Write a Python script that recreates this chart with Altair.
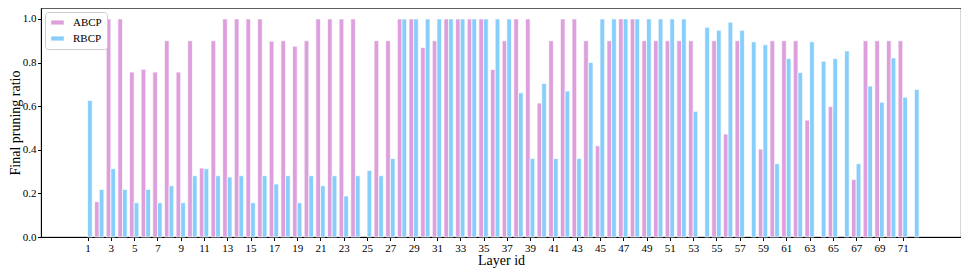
import altair as alt
import pandas as pd

layers = list(range(1, 73))
abcp = [0.0, 0.162, 1.0, 1.0, 0.756, 0.769, 0.756, 0.9, 0.756, 0.9,
        0.316, 0.9, 1.0, 1.0, 1.0, 1.0, 0.898, 0.9, 0.875, 0.9,
        1.0, 1.0, 1.0, 1.0, 0.0, 0.9, 0.9, 1.0, 1.0, 0.869,
        0.9, 1.0, 1.0, 1.0, 1.0, 0.768, 0.9, 1.0, 1.0, 0.614,
        0.9, 1.0, 1.0, 0.9, 0.418, 0.9, 1.0, 1.0, 0.9, 0.9,
        0.9, 0.9, 0.9, 0.0, 0.9, 0.472, 0.9, 0.0, 0.403, 0.9,
        0.9, 0.9, 0.536, 0.0, 0.598, 0.0, 0.264, 0.9, 0.9, 0.9,
        0.9, 0.0]
rbcp = [0.626, 0.218, 0.313, 0.218, 0.157, 0.218, 0.157, 0.235, 0.157, 0.281,
        0.313, 0.281, 0.275, 0.281, 0.157, 0.281, 0.243, 0.281, 0.157, 0.281,
        0.235, 0.281, 0.188, 0.281, 0.305, 0.281, 0.360, 1.0, 1.0, 1.0,
        1.0, 1.0, 1.0, 1.0, 1.0, 1.0, 1.0, 0.661, 0.360, 0.704,
        0.360, 0.669, 0.360, 0.800, 1.0, 1.0, 1.0, 1.0, 1.0, 1.0,
        1.0, 1.0, 0.576, 0.962, 0.948, 0.985, 0.948, 0.895, 0.881, 0.336,
        0.818, 0.754, 0.895, 0.806, 0.818, 0.853, 0.336, 0.692, 0.618, 0.821,
        0.641, 0.676]
methods = ["ABCP", "RBCP"]
colors = ["#DDA0DD", "#87CEFA"]
x_ticks = list(range(1, 72, 2))
y_ticks = [0.0, 0.2, 0.4, 0.6, 0.8, 1.0]

rows = []
for i, l in enumerate(layers):
    rows.append({"layer": l, "method": "ABCP", "value": abcp[i], "off": -0.4})
    rows.append({"layer": l, "method": "RBCP", "value": rbcp[i], "off": 0.0})
df = pd.DataFrame(rows)

font = "Liberation Serif"

bars = alt.Chart(df).transform_filter(
    "datum.value > 0"
).transform_calculate(
    x0="datum.layer + datum.off",
    x1="datum.layer + datum.off + 0.4",
).mark_bar(stroke="white", strokeWidth=0.7).encode(
    x=alt.X("x0:Q", scale=alt.Scale(domain=[-3, 76], nice=False, zero=False),
            axis=alt.Axis(values=x_ticks, title="Layer id", grid=False,
                          labelFont=font, titleFont=font, labelFontSize=11,
                          titleFontSize=14, titleFontWeight="normal",
                          labelColor="black", titleColor="black",
                          tickColor="black", domainColor="black",
                          tickSize=3.5, labelPadding=2, titlePadding=0,
                          labelFlush=False, labelOverlap=False)),
    x2="x1:Q",
    y=alt.Y("value:Q", scale=alt.Scale(domain=[0, 1.05], nice=False),
            axis=alt.Axis(values=y_ticks, format=".1f", title="Final pruning ratio",
                          grid=False, labelFont=font, titleFont=font,
                          labelFontSize=11, titleFontSize=14,
                          titleFontWeight="normal", labelColor="black",
                          titleColor="black", tickColor="black",
                          domainColor="black", tickSize=3.5, labelPadding=1.5,
                          titlePadding=0, labelFlush=False)),
    y2=alt.datum(0),
    color=alt.Color("method:N", scale=alt.Scale(domain=methods, range=colors),
                    legend=alt.Legend(title=None, orient="none", legendX=4, legendY=4,
                                      symbolType="M-1.5,-0.5L1.5,-0.5L1.5,0.5L-1.5,0.5Z",
                                      symbolSize=70, symbolStrokeWidth=0,
                                      labelFont=font, labelFontSize=11,
                                      labelColor="black", rowPadding=4,
                                      padding=5, strokeColor="#cccccc",
                                      fillColor="white", cornerRadius=3,
                                      symbolOffset=2, labelOffset=10)),
)

chart = bars.properties(
    width=920, height=229,
    autosize=alt.AutoSizeParams(type="none"),
    padding={"left": 33, "top": 0, "right": 0, "bottom": 33},
).configure_view(stroke="black", strokeWidth=0.8).configure_axis(
    labelFont=font, titleFont=font
).configure_legend(labelFont=font)

chart.save("out.html", embed_options={"renderer": "svg", "actions": False})
